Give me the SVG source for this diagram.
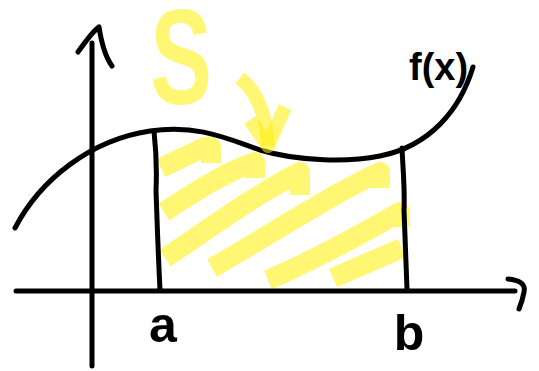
<svg xmlns="http://www.w3.org/2000/svg" width="539" height="371" viewBox="0 0 539 371">
<style>
.ink{fill:none;stroke:#000;stroke-width:5;stroke-linecap:round;stroke-linejoin:round}
.hl{fill:none;stroke:#ffef00;stroke-opacity:0.55;stroke-width:20;stroke-linecap:butt;stroke-linejoin:round}
.lbl{font-family:"Liberation Sans",Arial,sans-serif;font-weight:bold;fill:#000}
</style>
<rect width="539" height="371" fill="#fff"/>
<g id="shading">
<path class="hl" d="M161,168 L205,147 L211,147 L211,163"/>
<path class="hl" d="M164,212 C195,192 225,172 255,162 L255,178"/>
<path class="hl" d="M165,258 C210,228 255,195 300,172 L300,195"/>
<path class="hl" d="M212,268 C270,235 330,195 380,172 L380,188"/>
<path class="hl" d="M268,280 C310,262 360,235 400,212 L400,227"/>
<path class="hl" d="M333,278 C355,268 380,258 402,248"/>
</g>
<g id="integral-sign">
<text class="lbl" transform="translate(181,104) scale(0.68,1)" text-anchor="middle" font-size="136" fill="#ffef00" fill-opacity="0.55" style="fill:#ffef00">S</text>
</g>
<g id="connectors">
<path class="ink" d="M92,43 L92,366"/>
<path class="ink" d="M78,52 C88,38 94,30 99,27 C101,40 104,55 112,66"/>
<path class="ink" d="M16,291 L515,291"/>
<path class="ink" d="M508,279 C518,280 526,283 524,292 C523,298 521,304 519,309"/>
<path class="ink" d="M15,228 C40,180 90,140 150,131 C200,124 230,140 260,150 C300,162 350,162 380,156 C430,146 460,110 473,67"/>
<path class="ink" d="M154,131 C156,150 157,170 156,190 C157,220 158,250 160,290"/>
<path class="ink" d="M402,148 C403,170 405,190 404,210 C405,240 406,265 407,289"/>
<path class="hl" style="stroke-width:14" d="M240,78 C255,90 266,110 268,146"/>
<path class="hl" style="stroke-width:14" d="M250,120 L268,146 L285,107"/>
</g>
<g id="label-fx"><text class="lbl" x="409" y="80" font-size="38">f(x)</text></g>
<g id="label-a"><text class="lbl" x="163" y="342" font-size="50" text-anchor="middle">a</text></g>
<g id="label-b"><text class="lbl" x="409" y="350" font-size="50" text-anchor="middle">b</text></g>
</svg>
